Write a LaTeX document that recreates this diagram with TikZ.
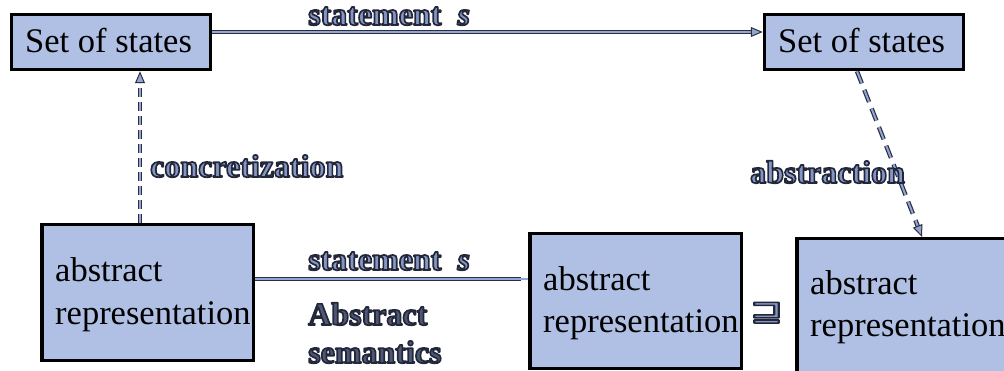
\documentclass[tikz,border=0pt]{standalone}
\usepackage{fontspec}
\setmainfont{Liberation Serif}
\newfontfamily\symfont{DejaVu Sans}
\usetikzlibrary{arrows.meta}

\definecolor{boxfill}{HTML}{B0C0E4}
\definecolor{linelight}{HTML}{93A5D2}
\definecolor{linedark}{HTML}{2A2E40}
\definecolor{lblfill}{HTML}{8696C4}
\definecolor{lbldeep}{HTML}{4E5876}

% outlined label text: coloured glyphs with a dark stroke (text render mode 2)
\newcommand\emb[2]{{\color{#1}%
  \special{pdf:literal direct 0.137 0.153 0.227 RG 1.7 w 1 j 2 Tr}#2%
  \special{pdf:literal direct 0 Tr}}}

\begin{document}
\begin{tikzpicture}[x=1pt,y=-1pt,
  box/.style={draw=black, line width=3.5pt, fill=boxfill, inner sep=0pt},
  boxtext/.style={anchor=base west, inner sep=0pt, text=black,
    font=\fontsize{34.5}{43}\selectfont},
  lbl/.style={anchor=base west, inner sep=0pt,
    font=\fontsize{32}{38}\selectfont\bfseries},
  conn/.style={draw=linelight, line width=2pt, #1,
    preaction={draw=linedark, line width=4.4pt, arrows=-, shorten >=7pt, #1}},
  conn/.default={solid},
  tip/.style={-{Triangle[length=12pt,width=10pt,fill=linelight,color=linedark,line width=1pt]}},
  dashA/.style={dash pattern=on 9pt off 5pt},
  dashB/.style={dash pattern=on 13pt off 7pt}]
\useasboundingbox (0,0) rectangle (1004,371);
\clip (0,0) rectangle (1004,371);

% boxes
\node[box, minimum width=199pt, minimum height=55pt] (tl) at (111,42) {};
\node[box, minimum width=199pt, minimum height=55pt] (tr) at (864,42) {};
\node[box, minimum width=211.5pt, minimum height=135.5pt] (bl) at (147.5,292.5) {};
\node[box, minimum width=211.5pt, minimum height=134.5pt] (bm) at (635.5,301) {};
\node[box, minimum width=211.5pt, minimum height=134.5pt] (br) at (902.5,306) {};

% box texts
\node[boxtext] (tlt) at (25,53) {Set of states};
\node[boxtext] (trt) at (778,53) {Set of states};
\node[boxtext] (bla) at (55,282) {abstract};
\node[boxtext] (blr) at (55,325) {representation};
\node[boxtext] (bma) at (543,291) {abstract};
\node[boxtext] (bmr) at (543,333) {representation};
\node[boxtext] (bra) at (810,295) {abstract};
\node[boxtext] (brr) at (810,337) {representation};

% connectors
\draw[conn, tip] ([yshift=10pt]tl.east) -- ([yshift=10pt]tr.west);
\coordinate (sL) at ([yshift=13.5pt]bl.east);
\draw[conn] (sL) -- (sL -| bm.west);
\coordinate (cB) at ([xshift=-7.5pt]bl.north);
\draw[conn=dashA, tip] (cB) -- (cB |- tl.south);
\draw[conn=dashB, tip] ([xshift=-7pt]tr.south) -- ([xshift=19.5pt]br.north);

% labels
\node[lbl] (st1) at (308,25) {\emb{lblfill}{statement\ \ \textit{s}}};
\node[lbl] (st2) at (308,270) {\emb{lblfill}{statement\ \ \textit{s}}};
\node[lbl] (as1) at (308,325) {\emb{lbldeep}{Abstract}};
\node[lbl] (as2) at (308,363) {\emb{lbldeep}{semantics}};
\node[lbl] (conc) at (150,177) {\emb{lblfill}{concretization}};
\node[lbl] (abst) at (750,183) {\emb{lblfill}{abstraction}};
\node[lbl, font=\fontsize{30}{36}\selectfont\symfont\bfseries] (sqs) at (750,320)
  {\scalebox{1.3}[0.88]{\emb{lblfill}{⊒}}};
\end{tikzpicture}
\end{document}
